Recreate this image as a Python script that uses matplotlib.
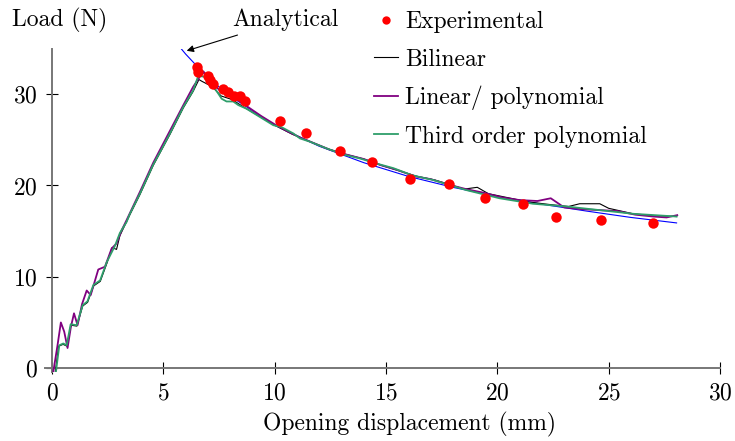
import matplotlib
matplotlib.use('Agg')
import matplotlib.pyplot as plt

plt.rcParams['font.family'] = 'serif'
plt.rcParams['font.serif'] = ['cmr10', 'DejaVu Serif']
plt.rcParams['mathtext.fontset'] = 'cm'
plt.rcParams['axes.formatter.use_mathtext'] = True

# experimental points
exp_x = [6.52, 6.57, 6.99, 7.09, 7.24, 7.69, 7.89, 8.17, 8.44, 8.67,
         10.24, 11.39, 12.93, 14.35, 16.1, 17.84, 19.46, 21.16, 22.63, 24.65, 26.99]
exp_y = [33.0, 32.4, 32.0, 31.5, 31.07, 30.6, 30.26, 29.8, 29.76, 29.24,
         27.05, 25.7, 23.77, 22.6, 20.73, 20.15, 18.65, 17.96, 16.57, 16.18, 15.85]

# analytical curve
ana_x = [5.66, 6.0, 7.0, 8.0, 10.0, 12.0, 14.0, 16.0, 18.0, 20.0, 22.0, 24.0, 26.0, 28.05]
ana_y = [35.4, 34.4, 31.8, 29.8, 26.6, 24.3, 22.5, 21.0, 19.8, 18.8, 17.95, 17.2, 16.5, 15.9]

# bilinear
bil_x = [0.15, 0.3, 0.5, 0.68, 0.85, 1.12, 1.38, 1.6, 1.87, 2.17, 2.47, 2.7, 2.9, 3.05,
         3.5, 3.95, 4.55, 5.3, 5.9, 6.34, 6.6, 6.74, 6.9, 7.2, 7.6, 8.1, 8.6, 9.3,
         10.0, 10.8, 11.6, 12.4, 13.2, 14.0, 14.8, 15.6, 16.4, 17.2, 18.0, 18.5,
         19.1, 19.6, 20.4, 21.4, 22.4, 23.2, 23.7, 24.6, 25.0, 26.1, 27.0, 28.05]
bil_y = [-0.4, 2.4, 2.6, 2.4, 4.7, 4.6, 6.8, 7.2, 9.0, 9.5, 11.5, 13.2, 13.0, 14.5,
         16.8, 19.0, 22.2, 25.6, 28.5, 30.3, 31.6, 31.4, 31.2, 30.8, 29.8, 29.4, 28.6, 27.6,
         26.6, 25.6, 24.8, 24.0, 23.4, 22.9, 22.2, 21.6, 21.0, 20.6, 20.0, 19.6,
         19.8, 19.1, 18.7, 18.2, 17.9, 17.7, 18.0, 18.0, 17.5, 16.9, 16.7, 16.6]

# linear / polynomial
lin_x = [0.06, 0.25, 0.40, 0.55, 0.70, 0.85, 0.99, 1.15, 1.35, 1.56, 1.74, 2.08, 2.38,
         2.68, 2.9, 3.13, 3.35, 3.95, 4.55, 5.3, 5.9, 6.34, 6.8, 7.1, 7.5, 7.8, 8.3,
         8.8, 9.4, 10.0, 10.6, 11.2, 11.8, 12.5, 13.2, 14.0, 14.8, 15.5, 16.3, 17.0,
         17.8, 18.6, 19.4, 20.2, 21.0, 21.8, 22.4, 23.0, 23.8, 24.6, 25.4, 26.2, 27.0,
         27.6, 28.08]
lin_y = [-0.4, 2.5, 5.0, 4.0, 2.2, 4.5, 6.0, 4.7, 7.0, 8.5, 8.0, 10.8, 11.1,
         13.1, 13.65, 15.1, 16.2, 19.3, 22.5, 26.0, 28.8, 30.8, 32.5, 31.5, 30.5, 30.0, 29.4,
         28.6, 27.6, 26.7, 25.9, 25.2, 24.6, 23.9, 23.4, 22.9, 22.2, 21.7, 21.0, 20.7,
         20.1, 19.6, 19.2, 18.7, 18.4, 18.3, 18.6, 17.6, 17.4, 17.3, 17.2, 16.8, 16.6,
         16.5, 16.75]

# third order polynomial
thr_x = [0.18, 0.33, 0.51, 0.66, 0.84, 1.11, 1.38, 1.59, 1.86, 2.16, 2.46, 2.83, 3.05,
         3.35, 3.5, 3.95, 4.55, 4.93, 5.3, 5.9, 6.34, 6.57, 6.87, 7.1, 7.35, 7.62, 7.84,
         8.14, 8.37, 8.74, 9.34, 9.94, 10.3, 10.84, 11.14, 11.58, 12.33, 13.08, 13.83,
         14.58, 15.33, 16.2, 17.12, 18.6, 20.1, 21.6, 23.1, 24.6, 26.1, 28.05]
thr_y = [-0.4, 2.5, 2.7, 2.5, 4.8, 4.7, 6.9, 7.3, 9.1, 9.6, 11.6, 13.4, 14.8,
         16.0, 16.9, 19.1, 22.3, 24.0, 25.7, 28.6, 30.4, 32.0, 31.9, 31.0, 30.5, 29.5, 29.2,
         29.2, 28.8, 28.4, 27.5, 26.6, 26.4, 25.7, 25.15, 24.8, 24.06, 23.4, 22.96,
         22.4, 21.9, 21.1, 20.6, 19.5, 18.6, 18.0, 17.7, 17.3, 16.9, 16.6]

FS = 17

fig = plt.figure(figsize=(7.35, 4.41), dpi=100)
ax = fig.add_axes([0.0616, 0.157, 0.918, 0.733])

ax.plot(ana_x, ana_y, color='#0000ff', lw=0.8, zorder=2)
ax.plot(bil_x, bil_y, color='black', lw=0.8, label='Bilinear', zorder=3)
ax.plot(lin_x, lin_y, color='#800080', lw=1.3, label='Linear/ polynomial', zorder=4)
ax.plot(thr_x, thr_y, color='#2e9e6a', lw=1.3, label='Third order polynomial', zorder=5)
ax.plot(exp_x, exp_y, 'o', color='#ff0000', ms=7.5, mec='none', label='Experimental', zorder=6)

ax.set_xlim(-0.3, 30)
ax.set_ylim(-0.4, 35)
ax.set_xticks([0, 5, 10, 15, 20, 25, 30])
ax.set_yticks([0, 10, 20, 30])

for s in ['top', 'right']:
    ax.spines[s].set_visible(False)
ax.spines['left'].set_position(('data', 0))
ax.spines['bottom'].set_position(('data', 0))
for s in ['left', 'bottom']:
    ax.spines[s].set_color('#777777')
    ax.spines[s].set_linewidth(1.4)
ax.tick_params(direction='inout', length=8, width=0.8, color='black', labelsize=FS, pad=6)

handles, labels = ax.get_legend_handles_labels()
order = [3, 0, 1, 2]
leg = fig.legend([handles[i] for i in order], [labels[i] for i in order],
                 loc='upper left', bbox_to_anchor=(372 / 735, 1 - 9 / 441), frameon=False,
                 fontsize=FS, handlelength=1.0, handletextpad=0.3, labelspacing=0.64,
                 borderpad=0.1, borderaxespad=0, markerscale=0.8)

ax.annotate('Analytical', xy=(6.05, 34.75), xytext=(8.1, 38.1), fontsize=FS,
            va='center', ha='left', annotation_clip=False,
            arrowprops=dict(arrowstyle='-|>', color='black', lw=0.8,
                            shrinkA=2, shrinkB=0, mutation_scale=10))

fig.text(12 / 735, 1 - 20 / 441, 'Load (N)', fontsize=FS, ha='left', va='center')
fig.text(410 / 735, 1 - 424 / 441, 'Opening displacement (mm)', fontsize=FS,
         ha='center', va='center')

fig.savefig('out.png', dpi=100)
